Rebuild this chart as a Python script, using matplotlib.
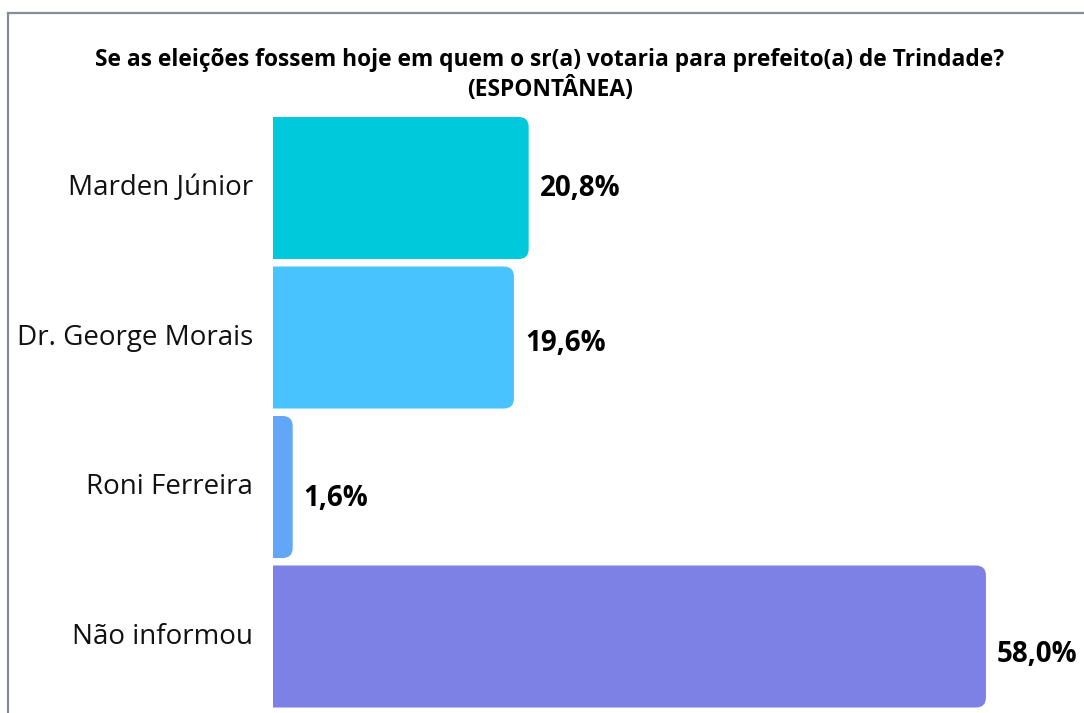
import numpy as np
import matplotlib
matplotlib.use('Agg')
import matplotlib.pyplot as plt
from matplotlib.patches import FancyBboxPatch
from matplotlib.lines import Line2D

plt.rcParams['font.family'] = ['Open Sans', 'DejaVu Sans']

title = "Se as eleições fossem hoje em quem o sr(a) votaria para prefeito(a) de Trindade?\n(ESPONTÂNEA)"
candidates = ['Marden Júnior', 'Dr. George Morais', 'Roni Ferreira', 'Não informou']
values = [20.8, 19.6, 1.6, 58.0]
colors = ['#00C9DB', '#48C3FD', '#62A6F8', '#7D81E6']

W, H = 1084, 713
fig = plt.figure(figsize=(W / 100, H / 100), dpi=100)

# axes placed so 0% sits at x=273px and rows are ~150px apart
ax = fig.add_axes([273 / W, 1 - 711.25 / H, 799 / W, 598 / H])
ax.set_xlim(0, 65)
ax.set_ylim(3.5, -0.5)
ax.axis('off')

bar_h = 0.95
px_x = 799 / 65          # pixels per % unit
px_y = 598 / 4           # pixels per row
r_px = 10
rx = r_px / px_x
aspect = (r_px / px_y) / rx

for i, (v, c) in enumerate(zip(values, colors)):
    y0 = i - bar_h / 2
    # start the box left of 0 so the axes clip hides the left rounding
    ax.add_patch(FancyBboxPatch((-2 * rx, y0), v + 2 * rx, bar_h,
                                boxstyle=f"round,pad=0,rounding_size={rx}",
                                mutation_aspect=aspect, fc=c, ec='none'))
    ax.text(v + 0.9, i + 0.04 * i, f"{v:.1f}%".replace('.', ','),
            fontsize=20, fontweight='bold', va='center', ha='left', color='black')
    ax.text(-1.6, i, candidates[i], fontsize=20, va='center',
            ha='right', color='#111111')

fig.text(550 / W, 1 - 75 / H, title, ha='center', va='center', fontsize=16.4,
         fontweight='bold', linespacing=1.25)

# frame lines at top and left
fig.add_artist(Line2D([8 / W, 1], [1 - 13 / H, 1 - 13 / H], transform=fig.transFigure,
                      color='#868B96', lw=1.6))
fig.add_artist(Line2D([8 / W, 8 / W], [0, 1 - 13 / H], transform=fig.transFigure,
                      color='#868B96', lw=1.6))

fig.savefig('out.png', dpi=100)
